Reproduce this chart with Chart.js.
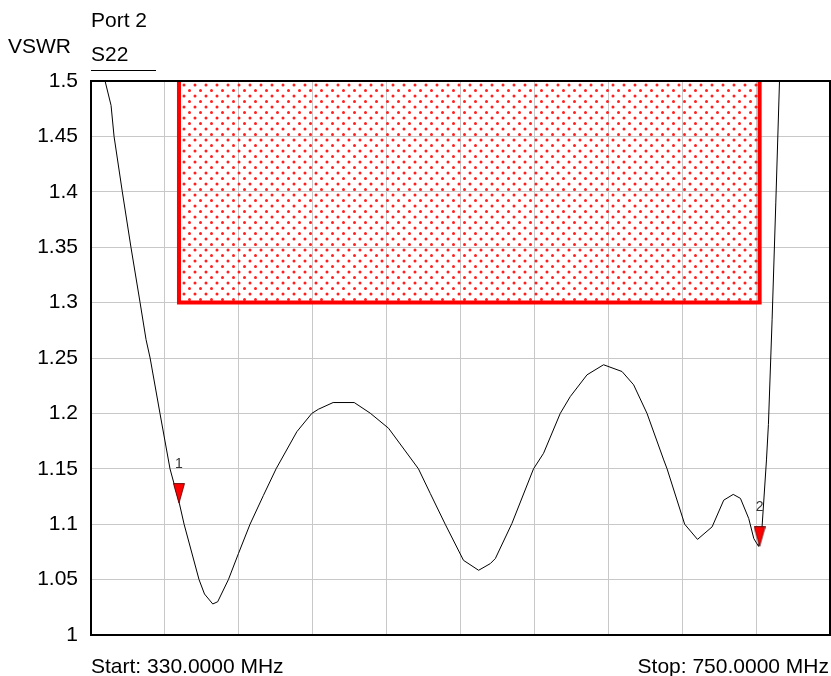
<!DOCTYPE html>
<html>
<head>
<meta charset="utf-8">
<script src="https://cdn.jsdelivr.net/npm/chart.js@4"></script>
<style>
  html, body { margin: 0; padding: 0; background: #fff; }
  #wrap { width: 831px; height: 676px; position: relative; }
</style>
</head>
<body>
<div id="wrap"><canvas id="vswr"></canvas></div>
<script>
const FONT = "'Liberation Sans', Arial, sans-serif";

// S22 trace (MHz, VSWR)
const freqMHz = [
  330, 334, 338, 341.4, 343.1, 347.8, 352.7, 357.9, 361.3, 363.6, 369.2, 374.9,
  380.2, 382.9, 391.4, 394.5, 399.2, 402, 408.1, 413.8, 420.4, 428, 435.2, 447,
  455.5, 459.3, 467.6, 479.6, 488.7, 499.1, 516.1, 522.8, 531.3, 541.7, 550.3,
  556.9, 559.8, 569.2, 581.5, 587.2, 596.7, 602.4, 611.9, 621.3, 631.8, 638.4,
  646, 655.5, 657.4, 667.4, 674.7, 683, 689.6, 695, 699.1, 703.8, 706.7, 709.4,
  711.4, 713.9, 715, 717.1, 719.2, 721.3, 723.5,
];
const vswr = [
  1.585, 1.54, 1.5, 1.478, 1.45, 1.40, 1.35, 1.30, 1.2665, 1.25, 1.20, 1.15,
  1.119, 1.10, 1.05, 1.037, 1.028, 1.030, 1.05, 1.0735, 1.10, 1.126, 1.15, 1.1835,
  1.20, 1.2038, 1.2098, 1.2098, 1.2002, 1.1866, 1.15, 1.1278, 1.10, 1.0674, 1.0584,
  1.0644, 1.069, 1.1006, 1.15, 1.164, 1.20, 1.2152, 1.2348, 1.2439, 1.2378, 1.2258,
  1.20, 1.158, 1.15, 1.10, 1.0863, 1.0976, 1.1217, 1.1269, 1.1233, 1.1052, 1.087, 1.080,
  1.098, 1.158, 1.19, 1.285, 1.39, 1.5, 1.6,
];

// limit mask (upper limit region)
const maskFreq = [380, 380, 710, 710];
const maskVswr = [1.5, 1.3, 1.3, 1.5];

// markers
const markerNames = ['1', '2'];
const markerFreq = [380, 710];
const markerVswr = [1.119, 1.080];

const yTickLabels = ['1', '1.05', '1.1', '1.15', '1.2', '1.25', '1.3', '1.35', '1.4', '1.45', '1.5'];
const startLabel = 'Start: 330.0000 MHz';
const stopLabel = 'Stop: 750.0000 MHz';

/* ── dotted fill for the mask ───────────────────────────────────── */
function dotPattern() {
  const c = document.createElement('canvas');
  c.width = 11; c.height = 11;
  const g = c.getContext('2d');
  g.fillStyle = 'rgba(255, 20, 20, 0.95)';
  [[2.5, 2.5], [8, 8]].forEach(([x, y]) => {
    g.beginPath();
    g.arc(x, y, 1.5, 0, Math.PI * 2);
    g.fill();
  });
  return g.createPattern(c, 'repeat');
}

/* ── marker triangle, tip in the middle of the image ─────────────── */
function markerImage() {
  const c = document.createElement('canvas');
  c.width = 12; c.height = 40;
  const g = c.getContext('2d');
  g.beginPath();
  g.moveTo(0.5, 0.5);
  g.lineTo(11.5, 0.5);
  g.lineTo(6, 20);
  g.closePath();
  g.fillStyle = '#ff0000';
  g.fill();
  g.strokeStyle = '#5a0000';
  g.lineWidth = 0.8;
  g.stroke();
  return c;
}

const trace = freqMHz.map((f, i) => ({ x: f, y: vswr[i] }));
const mask = maskFreq.map((f, i) => ({ x: f, y: maskVswr[i] }));
const markers = markerFreq.map((f, i) => ({ x: f, y: markerVswr[i] }));

const framePlugin = {
  id: 'frameAndText',
  afterDraw(chart) {
    const { ctx, chartArea: a } = chart;
    ctx.save();
    // black frame round the plot
    ctx.strokeStyle = '#000';
    ctx.lineWidth = 2;
    ctx.strokeRect(a.left, a.top, a.right - a.left, a.bottom - a.top);

    // marker numbers
    const xs = chart.scales.x, ys = chart.scales.y;
    ctx.fillStyle = '#333';
    ctx.font = `14px ${FONT}`;
    ctx.textAlign = 'center';
    ctx.textBaseline = 'alphabetic';
    markerNames.forEach((n, i) => {
      const px = xs.getPixelForValue(markerFreq[i]);
      const py = ys.getPixelForValue(markerVswr[i]);
      ctx.fillText(n, px, py - 35);
    });

    // header
    ctx.fillStyle = '#000';
    ctx.font = `21px ${FONT}`;
    ctx.textAlign = 'left';
    ctx.fillText('Port 2', 91, 27);
    ctx.fillText('VSWR', 8, 53);
    ctx.fillText('S22', 91, 61);
    ctx.lineWidth = 1;
    ctx.beginPath();
    ctx.moveTo(91, 70.5);
    ctx.lineTo(156, 70.5);
    ctx.stroke();

    // start / stop
    ctx.fillText(startLabel, 91, 673);
    ctx.textAlign = 'right';
    ctx.fillText(stopLabel, 829, 673);
    ctx.restore();
  },
};

new Chart(document.getElementById('vswr'), {
  type: 'line',
  data: {
    datasets: [
      {
        label: 'markers',
        data: markers,
        showLine: false,
        pointStyle: markerImage(),
        pointRadius: 6,
        order: 0,
      },
      {
        label: 'S22',
        data: trace,
        borderColor: '#000',
        borderWidth: 1,
        pointRadius: 0,
        tension: 0,
        fill: false,
        order: 1,
      },
      {
        label: 'mask',
        data: mask,
        borderColor: '#ff0000',
        borderWidth: 4,
        pointRadius: 0,
        tension: 0,
        fill: 'end',
        backgroundColor: dotPattern(),
        order: 2,
      },
    ],
  },
  options: {
    responsive: true,
    maintainAspectRatio: false,
    animation: false,
    events: [],
    layout: {
      autoPadding: false,
      padding: { top: 81, right: 1, left: 0, bottom: 0 },
    },
    plugins: {
      legend: { display: false },
      tooltip: { enabled: false },
    },
    scales: {
      x: {
        type: 'linear',
        min: 330,
        max: 750,
        ticks: { display: false, stepSize: 42 },
        grid: { color: '#c8c8c8', lineWidth: 1, drawTicks: false },
        border: { display: false },
        afterFit(s) { s.height = 41; },
      },
      y: {
        min: 1,
        max: 1.5,
        ticks: {
          stepSize: 0.05,
          padding: 13,
          color: '#000',
          font: { family: FONT, size: 21 },
          callback: (v, i) => yTickLabels[i],
        },
        grid: { color: '#c8c8c8', lineWidth: 1, drawTicks: false },
        border: { display: false },
        afterFit(s) { s.width = 91; },
      },
    },
  },
  plugins: [framePlugin],
});
</script>
</body>
</html>
